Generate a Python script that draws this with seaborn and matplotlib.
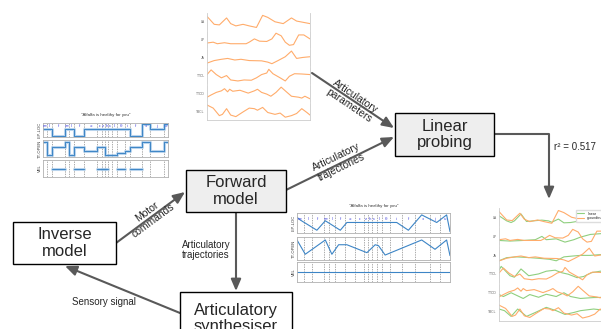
import matplotlib
matplotlib.use("Agg")
import numpy as np
import pandas as pd
import matplotlib.pyplot as plt
from matplotlib.patches import Rectangle
import seaborn as sns

W, H = 601, 329

# ---------------------------------------------------------------- data
TITLE = '"Alfalfa is healthy for you"'
PHONES = ["æ", "l", "f", "æ", "l", "f", "ə", "ɪ", "z", "h", "ɛ", "l", "θ", "i", "f", "ɔ", "j", "u"]
ART_NAMES = ["LIP-LOC", "TT-OPEN", "VEL"]

# motor commands (step targets per phone)
cmd_bounds = [0, .032, .072, .172, .204, .249, .329, .435, .469, .496, .523, .554, .589, .655, .695, .788, .859, .966, 1.0]
cmd_lip = [.55, .55, 0, .55, .55, 0, .55, .55, .55, .55, .55, .55, .55, .55, 0, 1, .55, 1]
cmd_tt = [.96, .06, .6, .96, .06, .6, .3, .6, .6, .06, .06, .06, .2, .35, .6, .96, .35, .96]
cmd_vel = [None, None, .5, None, None, .5, None, .5, .5, .5, None, None, .5, None, .5, None, None, None]

# articulatory trajectories (forward model output)
traj_bounds = [0, .043, .098, .174, .207, .250, .315, .380, .435, .463, .489, .522, .554, .609, .685, .772, .870, .935, 1.0]
traj_lip_t = [0, .022, .13, .185, .283, .326, .652, .728, .815, .913, .978, 1.0]
traj_lip_v = [.83, .67, .08, .63, .08, .53, .53, .08, .97, .53, .97, 0]
traj_tt_t = [0, .054, .185, .228, .272, .326, .457, .511, .533, .576, .815, .902, .978, 1.0]
traj_tt_v = [.93, .21, .93, .21, .69, .69, .29, .69, .64, .17, .93, .46, .93, .14]
traj_vel_t = [0, 1.0]
traj_vel_v = [.5, .5]

# articulatory parameters (ground truth, 6 channels)
PARAM_NAMES = ["LA", "LP", "JA", "TTCL", "TTCD", "TBCL"]
gt_t1 = [0, 7, 12, 19, 23, 28, 35, 41, 48, 54, 59, 66, 74, 82, 87, 100]
gt_v1 = [.89, .33, .29, .78, .38, .22, .33, .22, .11, .96, .82, .51, .38, .78, .56, .38]
gt_t2 = [0, 6, 10, 17, 23, 30, 38, 41, 46, 51, 58, 63, 67, 72, 76, 80, 84, 89, 94, 100]
gt_v2 = [.27, .33, .22, .29, .22, .22, .22, .33, .56, .40, .38, .56, .96, .78, .33, .11, .16, .84, .84, .56]
gt_t3 = [0, 7, 14, 20, 27, 33, 41, 53, 59, 63, 69, 76, 82, 87, 93, 100]
gt_v3 = [.11, .29, .38, .44, .33, .38, .29, .27, .18, .07, .29, .56, .96, .44, .51, .56]
gt_t4 = [0, 4, 9, 14, 19, 23, 30, 36, 43, 48, 53, 58, 60, 64, 71, 76, 80, 85, 92, 100]
gt_v4 = [.56, .89, .56, .33, .49, .18, .11, .18, .16, .33, .56, .67, .93, .62, .33, .11, .44, .62, .60, .56]
gt_t5 = [0, 4, 9, 14, 17, 20, 22, 25, 32, 40, 46, 49, 53, 58, 62, 67, 72, 76, 82, 89, 92, 95, 100]
gt_v5 = [.22, .38, .56, .67, .82, .60, .78, .64, .71, .51, .67, .78, .56, .44, .29, .56, .93, .67, .29, .22, .16, .29, .11]
gt_t6 = [0, 6, 12, 15, 19, 23, 28, 35, 41, 46, 49, 54, 59, 66, 71, 76, 82, 87, 92, 97, 100]
gt_v6 = [.93, .71, .18, .27, .67, .22, .11, .44, .71, .67, .56, .76, .40, .27, .36, .07, .18, .33, .67, .40, .22]

# linear probe predictions
pr_t1 = [0, 7, 11, 14, 20, 25, 31, 39, 45, 48, 54, 59, 65, 74, 83, 92, 100]
pr_v1 = [.61, .27, .16, .27, .73, .23, .27, .32, .27, .18, .39, .14, .16, .27, .36, .41, .43]
pr_t2 = [0, 10, 22, 33, 39, 43, 52, 60, 68, 74, 83, 92, 100]
pr_v2 = [.22, .18, .22, .27, .49, .27, .33, .11, .27, .44, .62, .67, .71]
pr_t3 = [0, 7, 16, 28, 37, 46, 52, 59, 66, 74, 83, 92, 100]
pr_v3 = [.12, .33, .38, .33, .28, .22, .12, .38, .43, .48, .48, .53, .55]
pr_t4 = [0, 2, 10, 14, 20, 27, 36, 43, 51, 57, 63, 71, 77, 84, 92, 100]
pr_v4 = [.75, 1.0, .38, .28, .83, .38, .50, .68, .75, .58, .48, .25, .33, .58, .68, .72]
pr_t5 = [0, 4, 11, 22, 28, 36, 43, 52, 59, 65, 74, 86, 100]
pr_v5 = [.38, .25, .50, .12, .38, .20, .40, .25, .50, .25, .12, .18, .20]
pr_t6 = [0, 5, 11, 17, 25, 33, 43, 52, 60, 68, 74, 86, 100]
pr_v6 = [.67, .56, .18, .67, .18, .44, .78, .56, .31, .44, .56, .67, .56]

R2_TEXT = "r² = 0.517"

gt_rows = [(gt_t1, gt_v1), (gt_t2, gt_v2), (gt_t3, gt_v3), (gt_t4, gt_v4), (gt_t5, gt_v5), (gt_t6, gt_v6)]
pr_rows = [(pr_t1, pr_v1), (pr_t2, pr_v2), (pr_t3, pr_v3), (pr_t4, pr_v4), (pr_t5, pr_v5), (pr_t6, pr_v6)]

# ---------------------------------------------------------------- style
ORANGE = "#ffac6b"
GREEN = "#8fcf7f"
BLUE = "#3d85c6"
BLUE_LIGHT = "#9cc3e6"
GREY = "#595959"
FRAME = "#b0b0b0"

sns.set_style("white")
plt.rcParams["font.family"] = ["Liberation Sans", "DejaVu Sans"]

fig = plt.figure(figsize=(W / 100, H / 100), dpi=100)
ax = fig.add_axes([0, 0, 1, 1])
ax.set_xlim(0, W)
ax.set_ylim(H, 0)
ax.axis("off")


def px_axes(x0, y0, x1, y1):
    """Axes placed by pixel box (top-left origin)"""
    return fig.add_axes([x0 / W, 1 - y1 / H, (x1 - x0) / W, (y1 - y0) / H])


def stacked(x0, y0, x1, y1, n, gap=0.8):
    h = (y1 - y0) / n
    return [px_axes(x0, y0 + i * h + gap / 2, x1, y0 + (i + 1) * h - gap / 2) for i in range(n)]


def box(x0, y0, x1, y1, text, fill):
    ax.add_patch(Rectangle((x0, y0), x1 - x0, y1 - y0, facecolor=fill,
                           edgecolor="black", lw=1.0, zorder=3))
    ax.text((x0 + x1) / 2, (y0 + y1) / 2, text, ha="center", va="center",
            fontsize=12, linespacing=1.15, zorder=4)


def arrow(p0, p1):
    ax.annotate("", xy=p1, xytext=p0, zorder=2,
                arrowprops=dict(arrowstyle="-|>,head_length=0.7,head_width=0.3",
                                color=GREY, lw=1.5, shrinkA=0, shrinkB=0))


def arrow_label(x, y, text, rot):
    ax.text(x, y, text, ha="center", va="center", rotation=rot,
            rotation_mode="anchor", fontsize=7.5, linespacing=1.1)


# ---------------------------------------------------------------- diagram
box(13, 222, 116, 264, "Inverse\nmodel", "white")
box(186, 170, 286, 212, "Forward\nmodel", "#eeeeee")
box(180, 292, 292, 345, "Articulatory\nsynthesiser", "white")
box(395, 113, 494, 156, "Linear\nprobing", "#eeeeee")

arrow((116, 243), (185, 192))
arrow((236, 213), (236, 291))
arrow((180, 313), (65, 266))
arrow((312, 73), (394, 128))
arrow((286, 190), (394, 137))
ax.plot([494, 549, 549], [134, 134, 185], color=GREY, lw=1.5, zorder=2)
arrow((549, 184), (549, 199))

arrow_label(150, 216, "Motor\ncommands", 36.5)
arrow_label(352, 101, "Articulatory\nparameters", -34)
arrow_label(339, 162, "Articulatory\ntrajectories", 26)
ax.text(206, 250, "Articulatory\ntrajectories", ha="center", va="center",
        fontsize=7, linespacing=1.1)
ax.text(104, 302, "Sensory signal", ha="center", va="center", fontsize=7)
ax.text(554, 147, R2_TEXT, ha="left", va="center", fontsize=7)


# ---------------------------------------------------------------- phone panels
def phone_panel(x0, x1, rows_px, title_y, bounds, label_y, series):
    axes = [px_axes(x0, r0, x1, r1) for r0, r1 in rows_px]
    fig.text(((x0 + x1) / 2) / W, 1 - title_y / H, TITLE, ha="center",
             va="center", fontsize=3.2, color="#333333")
    for a, name, draw in zip(axes, ART_NAMES, series):
        draw(a)
        for b in bounds[1:-1]:
            a.axvline(b, color="#8a8a8a", lw=0.5, ls=(0, (2, 1.5)), zorder=0)
        a.set_xlim(0, 1)
        a.set_ylim(-0.08, 1.08)
        a.set_xticks([])
        a.set_yticks([])
        a.set_xlabel("")
        a.set_ylabel(name, fontsize=3, labelpad=1, color="#333333")
        for s in a.spines.values():
            s.set_color(FRAME)
            s.set_linewidth(0.6)
    centers = [(bounds[i] + bounds[i + 1]) / 2 for i in range(len(PHONES))]
    for c, p in zip(centers, PHONES):
        axes[0].text(c, label_y, p, ha="center", va="center", fontsize=3.2,
                     color="#5050e0")
    return axes


def step_draw(vals):
    def _draw(a):
        df = pd.DataFrame({"t": cmd_bounds, "v": vals + [vals[-1]]})
        sns.lineplot(data=df, x="t", y="v", ax=a, drawstyle="steps-post",
                     color=BLUE_LIGHT, lw=2.2, alpha=0.7, estimator=None, errorbar=None)
        sns.lineplot(data=df, x="t", y="v", ax=a, drawstyle="steps-post",
                     color=BLUE, lw=0.7, estimator=None, errorbar=None)
    return _draw


def segment_draw(vals):
    def _draw(a):
        recs = []
        for i, v in enumerate(vals):
            if v is None:
                continue
            recs += [(i, cmd_bounds[i], v), (i, cmd_bounds[i + 1], v)]
        df = pd.DataFrame(recs, columns=["seg", "t", "v"])
        sns.lineplot(data=df, x="t", y="v", units="seg", ax=a, color=BLUE_LIGHT,
                     lw=2.2, alpha=0.7, estimator=None, errorbar=None)
        sns.lineplot(data=df, x="t", y="v", units="seg", ax=a, color=BLUE,
                     lw=0.7, estimator=None, errorbar=None)
    return _draw


def line_draw(t, v):
    def _draw(a):
        df = pd.DataFrame({"t": t, "v": v})
        sns.lineplot(data=df, x="t", y="v", ax=a, color=BLUE, lw=0.8,
                     estimator=None, errorbar=None, sort=False)
    return _draw


phone_panel(43, 168, [(123, 137), (140, 157), (160, 177)], 115, cmd_bounds, 0.85,
            [step_draw(cmd_lip), step_draw(cmd_tt), segment_draw(cmd_vel)])
phone_panel(297, 450, [(213, 233), (237, 260), (262, 282)], 206, traj_bounds, 0.72,
            [line_draw(traj_lip_t, traj_lip_v), line_draw(traj_tt_t, traj_tt_v),
             line_draw(traj_vel_t, traj_vel_v)])


# ---------------------------------------------------------------- parameter panels
def param_panel(x0, y0, x1, y1, with_pred):
    axes = stacked(x0, y0, x1, y1, len(gt_rows))
    for i, a in enumerate(axes):
        if with_pred:
            t, v = pr_rows[i]
            sns.lineplot(x=t, y=v, ax=a, color=GREEN, lw=0.8, estimator=None,
                         label="linear" if i == 0 else None)
        t, v = gt_rows[i]
        sns.lineplot(x=t, y=v, ax=a, color=ORANGE, lw=0.8, estimator=None,
                     label="groundtruth" if (with_pred and i == 0) else None)
        a.set_xlim(0, 100)
        a.set_ylim(-0.1, 1.1)
        a.set_xticks([])
        a.set_yticks([0.5])
        a.set_yticklabels([PARAM_NAMES[i]], fontsize=2.4, color="#666666")
        a.tick_params(axis="y", length=0, pad=1.5)
        for side, s in a.spines.items():
            s.set_color("#cccccc")
            s.set_linewidth(0.6)
        a.spines["top"].set_visible(False)
        a.spines["bottom"].set_visible(i == len(axes) - 1)
    if with_pred:
        axes[0].legend(loc="upper right", fontsize=2.6, frameon=True,
                       handlelength=2.0, borderpad=0.4, labelspacing=0.2,
                       framealpha=1, edgecolor="#dddddd")
    return axes


param_panel(207, 13, 310, 120, with_pred=False)
param_panel(499, 208, 609, 321, with_pred=True)

fig.savefig("out.png", dpi=100)
